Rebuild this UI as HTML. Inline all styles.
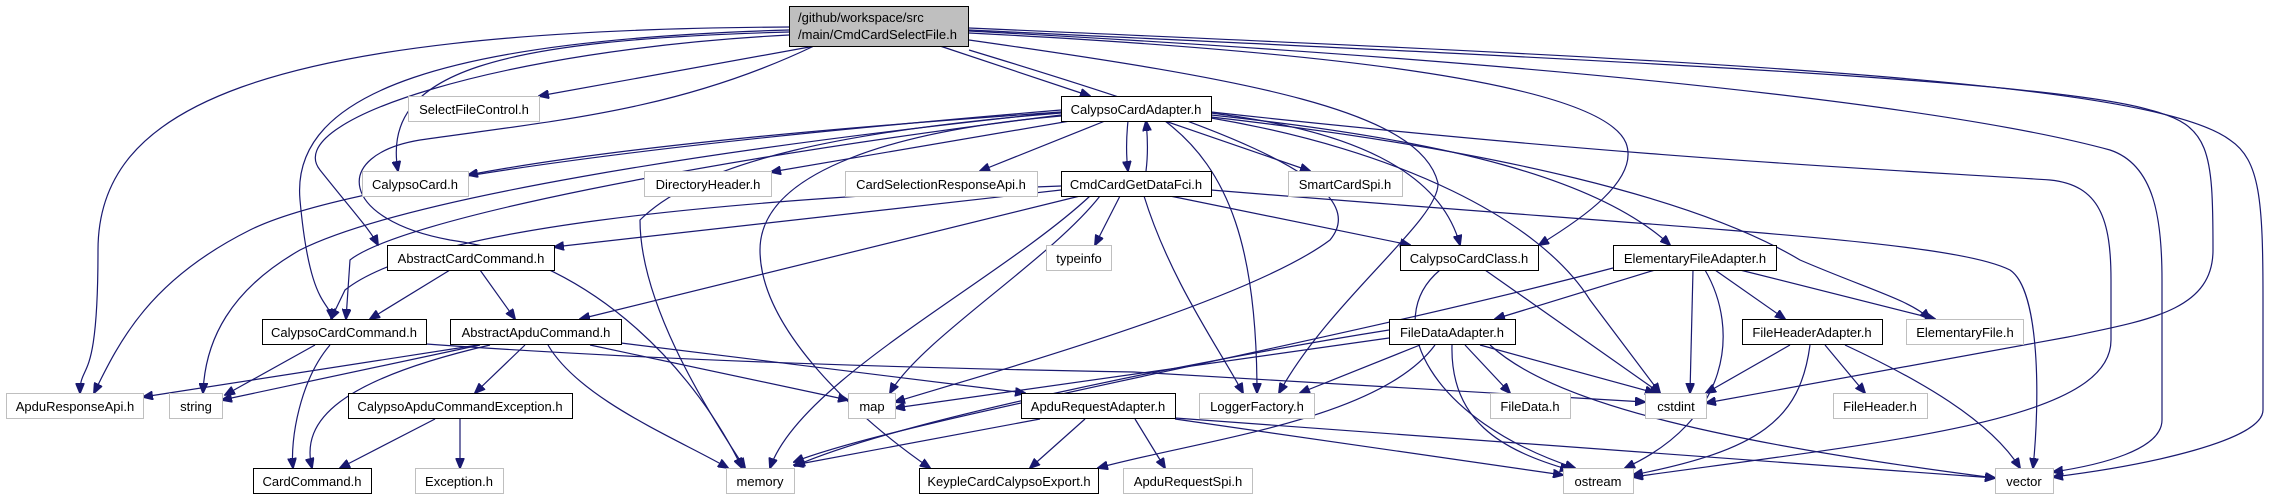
<!DOCTYPE html>
<html><head><meta charset="utf-8"><style>
html,body{margin:0;padding:0;background:#fff;}
svg{display:block;}
text{font-family:"Liberation Sans",Arial,sans-serif;font-size:13px;fill:#000;text-anchor:middle;}
.e{fill:none;stroke:#191970;stroke-width:1.2;marker-end:url(#a);}
.nb{fill:#fff;stroke:#000;stroke-width:1;}
.ng{fill:#fff;stroke:#bfbfbf;stroke-width:1;}
</style></head><body>
<svg width="2269" height="500" viewBox="0 0 2269 500" xmlns="http://www.w3.org/2000/svg">
<defs><marker id="a" markerWidth="11" markerHeight="9" refX="10" refY="4.5" orient="auto" markerUnits="userSpaceOnUse"><path d="M0,0 L11,4.5 L0,9 z" fill="#191970" stroke="#191970"/></marker></defs>
<g>
<path class="e" d="M815 46 L539 96"/>
<path class="e" d="M940 46 L1090 96"/>
<path class="e" d="M789 32 C500 40,380 70,398 171"/>
<path class="e" d="M789 27 C250 30,98 110,98 250 S80 360,80 393"/>
<path class="e" d="M789 30 C450 40,290 90,300 200 S330 300,332 319"/>
<path class="e" d="M789 35 C500 50,280 120,320 170 S370 230,378 245"/>
<path class="e" d="M814 46 C680 110,560 120,420 140 C330 155,340 220,450 240 C600 260,700 380,742 468"/>
<path class="e" d="M969 33 C1300 50,1600 80,1626 143 C1640 180,1580 220,1539 245"/>
<path class="e" d="M969 40 C1250 80,1420 110,1438 183 C1440 220,1330 300,1279 393"/>
<path class="e" d="M969 50 C1200 120,1380 180,1330 240 C1250 300,1000 370,895 402"/>
<path class="e" d="M969 30 C1600 60,2050 80,2150 110 C2210 125,2213 150,2213 250 C2213 310,2150 320,2068 337 L1706 403"/>
<path class="e" d="M969 28 C1700 60,2150 80,2230 140 C2260 160,2263 200,2263 300 L2263 410 C2263 440,2150 465,2053 477"/>
<path class="e" d="M969 31 C1700 70,2000 120,2110 150 C2155 165,2162 220,2162 280 L2162 420 C2162 450,2100 465,2053 472"/>
<path class="e" d="M1061 112 C800 130,600 150,468 175"/>
<path class="e" d="M1070 121 L771 172"/>
<path class="e" d="M1105 121 L980 171"/>
<path class="e" d="M1128 121 C1126 140,1126 155,1128 171"/>
<path class="e" d="M1146 171 C1148 155,1148 140,1146 121"/>
<path class="e" d="M1165 121 L1310 171"/>
<path class="e" d="M1061 110 C700 140,350 180,250 230 C150 280,120 340,94 393"/>
<path class="e" d="M1061 112 C700 150,400 200,300 250 C230 290,205 340,203 393"/>
<path class="e" d="M1061 115 C700 160,400 220,350 260 L346 319"/>
<path class="e" d="M1061 113 C850 130,700 160,640 220 C640 300,700 400,745 468"/>
<path class="e" d="M1061 116 C900 130,760 170,760 250 C760 330,860 420,930 468"/>
<path class="e" d="M1165 121 C1230 170,1257 250,1257 393"/>
<path class="e" d="M1211 113 C1350 130,1440 170,1460 245"/>
<path class="e" d="M1211 115 C1450 140,1600 180,1670 245"/>
<path class="e" d="M1211 117 C1500 150,1700 200,1800 260 C1870 290,1910 300,1930 319"/>
<path class="e" d="M1211 118 C1400 150,1540 220,1590 300 L1660 393"/>
<path class="e" d="M1211 112 C1650 160,1900 170,2050 180 C2100 185,2111 220,2111 280 L2111 340 C2111 420,1900 440,1633 477"/>
<path class="e" d="M1061 190 L554 247"/>
<path class="e" d="M1080 196 L580 319"/>
<path class="e" d="M1120 196 L1095 245"/>
<path class="e" d="M1170 196 L1410 245"/>
<path class="e" d="M1144 196 C1170 280,1220 350,1243 393"/>
<path class="e" d="M1211 190 C1700 230,1950 240,2010 270 C2040 290,2040 400,2033 468"/>
<path class="e" d="M1100 196 C1050 260,920 340,890 393"/>
<path class="e" d="M1090 196 C1000 280,800 380,770 468"/>
<path class="e" d="M1061 186 C700 200,420 230,345 290 L331 319"/>
<path class="e" d="M450 270 L370 319"/>
<path class="e" d="M480 270 L515 319"/>
<path class="e" d="M315 345 L225 395"/>
<path class="e" d="M330 345 C300 380,290 440,293 468"/>
<path class="e" d="M426 344 C650 360,900 368,1134 372 L1645 402"/>
<path class="e" d="M478 345 L143 397"/>
<path class="e" d="M480 345 L222 400"/>
<path class="e" d="M525 345 L475 393"/>
<path class="e" d="M490 345 C340 380,300 420,312 468"/>
<path class="e" d="M548 345 C580 400,680 440,728 468"/>
<path class="e" d="M590 345 L848 400"/>
<path class="e" d="M621 343 L1025 393"/>
<path class="e" d="M435 419 L340 468"/>
<path class="e" d="M460 419 L460 468"/>
<path class="e" d="M1040 419 L794 465"/>
<path class="e" d="M1085 419 L1030 468"/>
<path class="e" d="M1135 419 L1165 468"/>
<path class="e" d="M1175 419 L1563 475"/>
<path class="e" d="M1175 418 L1995 478"/>
<path class="e" d="M1485 270 L1660 393"/>
<path class="e" d="M1440 270 C1380 320,1430 420,1575 468"/>
<path class="e" d="M1655 270 L1495 319"/>
<path class="e" d="M1715 270 L1785 319"/>
<path class="e" d="M1740 270 L1935 319"/>
<path class="e" d="M1693 270 L1690 393"/>
<path class="e" d="M1705 270 C1740 330,1730 420,1625 468"/>
<path class="e" d="M1613 268 C1300 350,900 420,794 462"/>
<path class="e" d="M1420 345 L1300 393"/>
<path class="e" d="M1465 345 L1510 393"/>
<path class="e" d="M1480 345 L1655 393"/>
<path class="e" d="M1452 345 C1450 420,1500 450,1570 470"/>
<path class="e" d="M1389 338 L895 408"/>
<path class="e" d="M1389 330 C1200 360,900 420,795 466"/>
<path class="e" d="M1435 345 C1380 420,1200 440,1098 468"/>
<path class="e" d="M1490 345 C1550 400,1700 440,1995 478"/>
<path class="e" d="M1790 345 L1706 393"/>
<path class="e" d="M1825 345 L1865 393"/>
<path class="e" d="M1810 345 C1800 420,1760 450,1633 475"/>
<path class="e" d="M1845 345 C1920 380,1990 420,2020 468"/>
</g>
<g>
<rect x="789.5" y="6.5" width="179" height="40" fill="#bfbfbf" stroke="#000"/>
<text x="798" y="22" style="text-anchor:start">/github/workspace/src</text>
<text x="798" y="39" style="text-anchor:start">/main/CmdCardSelectFile.h</text>
<rect class="ng" x="408.5" y="96.5" width="131" height="25"/><text x="474" y="114">SelectFileControl.h</text>
<rect class="nb" x="1061.5" y="96.5" width="150" height="25"/><text x="1136" y="114">CalypsoCardAdapter.h</text>
<rect class="ng" x="362.5" y="171.5" width="106" height="25"/><text x="415" y="189">CalypsoCard.h</text>
<rect class="ng" x="644.5" y="171.5" width="127" height="25"/><text x="708" y="189">DirectoryHeader.h</text>
<rect class="ng" x="845.5" y="171.5" width="192" height="25"/><text x="941" y="189">CardSelectionResponseApi.h</text>
<rect class="nb" x="1061.5" y="171.5" width="150" height="25"/><text x="1136" y="189">CmdCardGetDataFci.h</text>
<rect class="ng" x="1288.5" y="171.5" width="114" height="25"/><text x="1345" y="189">SmartCardSpi.h</text>
<rect class="nb" x="387.5" y="245.5" width="167" height="25"/><text x="471" y="263">AbstractCardCommand.h</text>
<rect class="ng" x="1046.5" y="245.5" width="65" height="25"/><text x="1079" y="263">typeinfo</text>
<rect class="nb" x="1400.5" y="245.5" width="138" height="25"/><text x="1469" y="263">CalypsoCardClass.h</text>
<rect class="nb" x="1613.5" y="245.5" width="163" height="25"/><text x="1695" y="263">ElementaryFileAdapter.h</text>
<rect class="nb" x="262.5" y="319.5" width="164" height="25"/><text x="344" y="337">CalypsoCardCommand.h</text>
<rect class="nb" x="450.5" y="319.5" width="171" height="25"/><text x="536" y="337">AbstractApduCommand.h</text>
<rect class="nb" x="1389.5" y="319.5" width="126" height="25"/><text x="1452" y="337">FileDataAdapter.h</text>
<rect class="nb" x="1742.5" y="319.5" width="140" height="25"/><text x="1812" y="337">FileHeaderAdapter.h</text>
<rect class="ng" x="1906.5" y="319.5" width="117" height="25"/><text x="1965" y="337">ElementaryFile.h</text>
<rect class="ng" x="6.5" y="393.5" width="137" height="25"/><text x="75" y="411">ApduResponseApi.h</text>
<rect class="ng" x="169.5" y="393.5" width="53" height="25"/><text x="196" y="411">string</text>
<rect class="nb" x="348.5" y="393.5" width="224" height="25"/><text x="460" y="411">CalypsoApduCommandException.h</text>
<rect class="ng" x="848.5" y="393.5" width="47" height="25"/><text x="872" y="411">map</text>
<rect class="nb" x="1021.5" y="393.5" width="154" height="25"/><text x="1098" y="411">ApduRequestAdapter.h</text>
<rect class="ng" x="1199.5" y="393.5" width="115" height="25"/><text x="1257" y="411">LoggerFactory.h</text>
<rect class="ng" x="1490.5" y="393.5" width="80" height="25"/><text x="1530" y="411">FileData.h</text>
<rect class="ng" x="1645.5" y="393.5" width="61" height="25"/><text x="1676" y="411">cstdint</text>
<rect class="ng" x="1833.5" y="393.5" width="94" height="25"/><text x="1880" y="411">FileHeader.h</text>
<rect class="nb" x="253.5" y="468.5" width="118" height="25"/><text x="312" y="486">CardCommand.h</text>
<rect class="ng" x="415.5" y="468.5" width="88" height="25"/><text x="459" y="486">Exception.h</text>
<rect class="ng" x="726.5" y="468.5" width="68" height="25"/><text x="760" y="486">memory</text>
<rect class="nb" x="919.5" y="468.5" width="179" height="25"/><text x="1009" y="486">KeypleCardCalypsoExport.h</text>
<rect class="ng" x="1123.5" y="468.5" width="129" height="25"/><text x="1188" y="486">ApduRequestSpi.h</text>
<rect class="ng" x="1563.5" y="468.5" width="70" height="25"/><text x="1598" y="486">ostream</text>
<rect class="ng" x="1995.5" y="468.5" width="58" height="25"/><text x="2024" y="486">vector</text>
</g>
</svg>
</body></html>
